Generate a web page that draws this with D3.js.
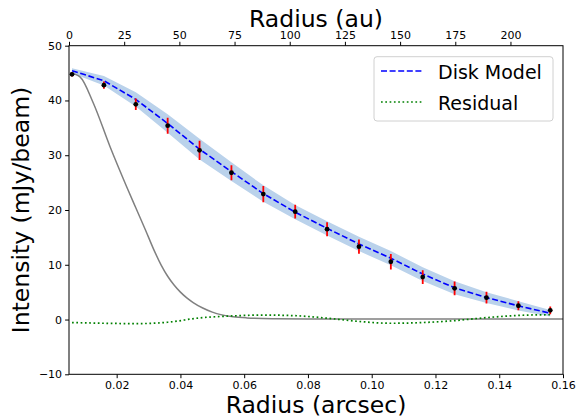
<!DOCTYPE html>
<html><head><meta charset="utf-8">
<script src="https://cdn.jsdelivr.net/npm/d3@7"></script>
<style>body{margin:0;background:#fff}svg{display:block;font-family:"DejaVu Sans",sans-serif}</style>
</head><body><svg id="c" width="576" height="417"></svg>
<script>
// Data
const radii      = [0.006,0.016,0.026,0.036,0.046,0.056,0.066,0.076,0.086,0.096,0.106,0.116,0.126,0.136,0.146,0.156];
const dataVals   = [44.77,42.8,39.3,35.4,30.9,26.8,22.9,19.7,16.5,13.3,10.55,7.76,5.7,4.0,2.52,1.68];
const dataErr    = [0.4,0.67,1.06,1.46,1.76,1.37,1.49,1.25,1.28,1.3,1.4,1.26,1.25,1.06,0.82,0.7];
const modelVals  = [45.43,43.6,40.2,35.8,31.1,27.0,23.0,19.6,16.65,13.8,11.2,8.3,5.8,4.0,2.5,1.15];
const bandHalf   = [0.45,0.85,1.3,1.7,1.9,1.7,1.5,1.3,1.3,1.3,1.3,1.25,1.2,1.0,0.85,0.6];
const residVals  = [-0.55,-0.68,-0.75,-0.5,0.3,0.65,0.82,0.7,0.25,-0.35,-0.68,-0.55,-0.2,0.35,0.75,0.88];
const beamX      = [0.0055,0.0085,0.0127,0.0179,0.0231,0.026,0.029,0.032,0.034,0.036,0.038,0.040,0.042,0.044,0.047,0.050,0.053,0.0565,0.0608,0.07,0.08,0.10,0.13,0.16];
const beamVals   = [45.0,44.3,39.5,31.6,24.3,20.4,16.4,12.3,9.9,7.9,6.3,5.0,3.95,3.1,2.1,1.35,0.85,0.5,0.3,0.15,0.1,0.1,0.1,0.1];
const xTicks     = [0.02,0.04,0.06,0.08,0.10,0.12,0.14,0.16];
const auTicks    = [0,25,50,75,100,125,150,175,200];
const yTicks     = [-10,0,10,20,30,40,50];
const legendLabels = ["Disk Model","Residual"];

const L=69,R=563,T=45.7,B=374.3;
const svg=d3.select("#c");
const x=d3.scaleLinear().domain([0.00505,0.16]).range([L,R]);
const xa=d3.scaleLinear().domain([0,223.8]).range([L,R]);
const y=d3.scaleLinear().domain([-10,50]).range([B,T]);

svg.append("defs").append("clipPath").attr("id","pc").append("rect")
  .attr("x",L).attr("y",T).attr("width",R-L).attr("height",B-T);
const g=svg.append("g").attr("clip-path","url(#pc)");

// band
const band=d3.area().x((d,i)=>x(radii[i])).y0((d,i)=>y(modelVals[i]-bandHalf[i])).y1((d,i)=>y(modelVals[i]+bandHalf[i]));
g.append("path").datum(radii).attr("d",band).attr("fill","rgb(186,210,235)");

// beam (gray)
g.append("path").datum(beamX.map((v,i)=>[v,beamVals[i]]))
  .attr("d",d3.line().x(d=>x(d[0])).y(d=>y(d[1])).curve(d3.curveMonotoneX))
  .attr("fill","none").attr("stroke","#808080").attr("stroke-width",1.5);

// residual
g.append("path").datum(radii.map((v,i)=>[v,residVals[i]]))
  .attr("d",d3.line().x(d=>x(d[0])).y(d=>y(d[1])).curve(d3.curveMonotoneX))
  .attr("fill","none").attr("stroke","#008000").attr("stroke-width",1.7).attr("stroke-dasharray","1.7,2.6");

// model
g.append("path").datum(radii.map((v,i)=>[v,modelVals[i]]))
  .attr("d",d3.line().x(d=>x(d[0])).y(d=>y(d[1])))
  .attr("fill","none").attr("stroke","#0000ff").attr("stroke-width",1.6).attr("stroke-dasharray","6,2.6");

// error bars
g.selectAll(".eb").data(radii).enter().append("line")
  .attr("x1",d=>x(d)).attr("x2",d=>x(d))
  .attr("y1",(d,i)=>y(dataVals[i]-dataErr[i])).attr("y2",(d,i)=>y(dataVals[i]+dataErr[i]))
  .attr("stroke","#ff0000").attr("stroke-width",1.8);
g.selectAll(".pt").data(radii).enter().append("circle")
  .attr("cx",d=>x(d)).attr("cy",(d,i)=>y(dataVals[i])).attr("r",2.4).attr("fill","#000");

// frame
svg.append("rect").attr("x",L).attr("y",T).attr("width",R-L).attr("height",B-T)
  .attr("fill","none").attr("stroke","#000").attr("stroke-width",1);

// axes
const ax=svg.append("g").attr("transform",`translate(0,${B})`)
  .call(d3.axisBottom(x).tickValues(xTicks).tickFormat(d3.format(".2f")).tickSize(3.9).tickPadding(3));
const at=svg.append("g").attr("transform",`translate(0,${T})`)
  .call(d3.axisTop(xa).tickValues(auTicks).tickFormat(d3.format("d")).tickSize(3.9).tickPadding(3));
const ay=svg.append("g").attr("transform",`translate(${L},0)`)
  .call(d3.axisLeft(y).tickValues(yTicks).tickFormat(d=>d<0?"\u2212"+Math.abs(d):d).tickSize(3.9).tickPadding(3));
[ax,at,ay].forEach(a=>{a.select(".domain").remove();
  a.selectAll("text").attr("font-family","DejaVu Sans").attr("font-size",11).attr("fill","#000");
  a.selectAll("line").attr("stroke","#000").attr("stroke-width",1);});

// axis labels
svg.append("text").attr("x",(L+R)/2).attr("y",413).attr("text-anchor","middle")
  .attr("font-size",23.5).text("Radius (arcsec)");
svg.append("text").attr("x",(L+R)/2).attr("y",27).attr("text-anchor","middle")
  .attr("font-size",23.5).text("Radius (au)");
svg.append("text").attr("transform",`translate(29,${(T+B)/2}) rotate(-90)`).attr("text-anchor","middle")
  .attr("font-size",23.5).text("Intensity (mJy/beam)");

// legend
const lg=svg.append("g");
lg.append("rect").attr("x",374).attr("y",56.7).attr("width",179).attr("height",64.3).attr("rx",3)
  .attr("fill","#fff").attr("fill-opacity",0.8).attr("stroke","#d0d0d0").attr("stroke-width",1);
const styles=[{c:"#0000ff",d:"6,2.6",w:1.6},{c:"#008000",d:"1.7,2.6",w:1.7}];
legendLabels.forEach((t,i)=>{
  const yy=71+i*31;
  lg.append("line").attr("x1",381).attr("x2",422).attr("y1",yy).attr("y2",yy)
    .attr("stroke",styles[i].c).attr("stroke-width",styles[i].w).attr("stroke-dasharray",styles[i].d);
  lg.append("text").attr("x",438).attr("y",yy+8).attr("font-size",19).text(t);
});
</script></body></html>
